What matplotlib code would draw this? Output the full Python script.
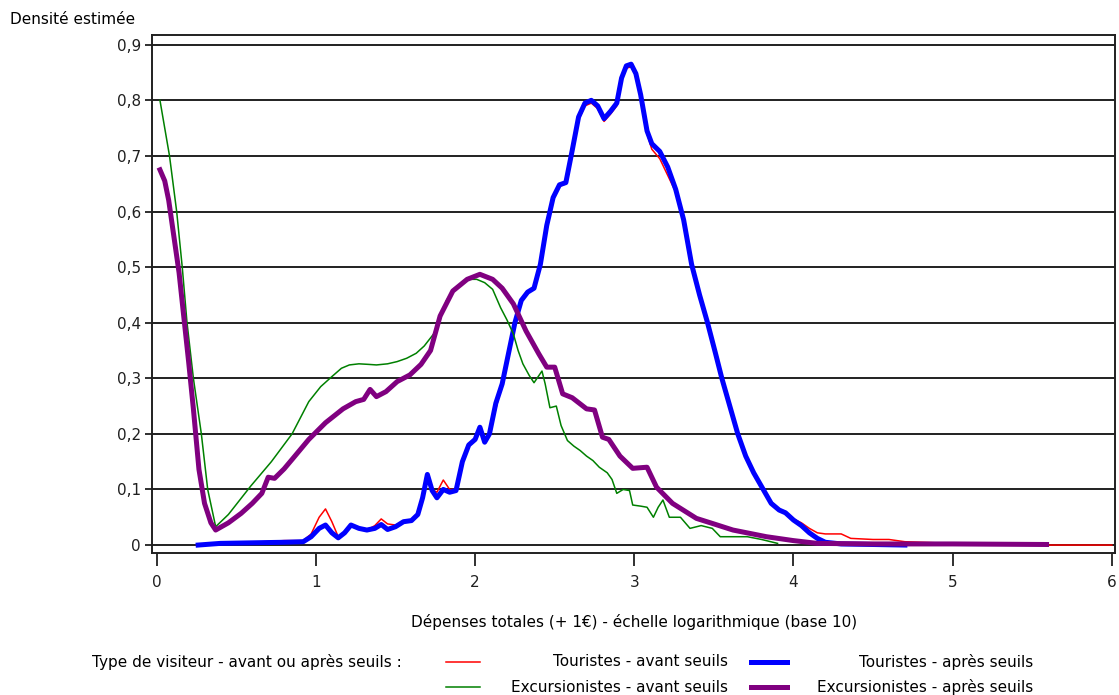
import numpy as np
import matplotlib.pyplot as plt
from matplotlib.lines import Line2D
from matplotlib.ticker import FuncFormatter

# Touristes - après seuils (bleu)
x_tour_apres = [0.26, 0.4, 0.6, 0.8, 0.92, 0.97, 1.02, 1.06, 1.10, 1.14, 1.18, 1.22, 1.27, 1.32,
                1.37, 1.41, 1.45, 1.50, 1.55, 1.60, 1.64, 1.67, 1.70, 1.73, 1.76, 1.80, 1.84, 1.88,
                1.92, 1.96, 2.00, 2.03, 2.06, 2.09, 2.13, 2.17, 2.21, 2.25, 2.29, 2.33, 2.37, 2.41,
                2.45, 2.49, 2.53, 2.57, 2.61, 2.65, 2.69, 2.73, 2.77, 2.81, 2.85, 2.89, 2.92, 2.95,
                2.98, 3.01, 3.04, 3.08, 3.11, 3.16, 3.21, 3.26, 3.31, 3.36, 3.41, 3.46, 3.51, 3.55,
                3.60, 3.65, 3.70, 3.75, 3.81, 3.86, 3.91, 3.95, 4.00, 4.05, 4.10, 4.15, 4.20, 4.30,
                4.50, 4.70]
y_tour_apres = [0.0, 0.003, 0.004, 0.005, 0.006, 0.015, 0.030, 0.036, 0.022, 0.013, 0.022, 0.036, 0.030, 0.027,
                0.030, 0.037, 0.028, 0.033, 0.042, 0.044, 0.055, 0.085, 0.127, 0.098, 0.085, 0.100, 0.095, 0.098,
                0.150, 0.180, 0.190, 0.212, 0.185, 0.200, 0.255, 0.290, 0.345, 0.400, 0.440, 0.455, 0.462, 0.505,
                0.575, 0.625, 0.648, 0.652, 0.710, 0.770, 0.795, 0.800, 0.790, 0.767, 0.780, 0.795, 0.840, 0.862,
                0.865, 0.848, 0.810, 0.745, 0.722, 0.708, 0.680, 0.640, 0.585, 0.505, 0.450, 0.400, 0.345, 0.300,
                0.250, 0.200, 0.160, 0.130, 0.100, 0.075, 0.063, 0.058, 0.045, 0.035, 0.022, 0.012, 0.005, 0.002,
                0.001, 0.0]

# Touristes - avant seuils (rouge)
x_tour_avant = [0.25, 0.4, 0.6, 0.8, 0.92, 0.97, 1.02, 1.06, 1.10, 1.14, 1.18, 1.22, 1.27, 1.32,
                1.37, 1.41, 1.45, 1.50, 1.55, 1.60, 1.64, 1.67, 1.70, 1.73, 1.76, 1.80, 1.84, 1.88,
                1.92, 1.96, 2.00, 2.03, 2.06, 2.09, 2.13, 2.17, 2.21, 2.25, 2.29, 2.33, 2.37, 2.41,
                2.45, 2.49, 2.53, 2.57, 2.61, 2.65, 2.69, 2.73, 2.77, 2.81, 2.85, 2.89, 2.92, 2.95,
                2.98, 3.01, 3.04, 3.08, 3.11, 3.16, 3.21, 3.26, 3.31, 3.36, 3.41, 3.46, 3.51, 3.55,
                3.60, 3.65, 3.70, 3.75, 3.81, 3.86, 3.91, 3.95, 4.00, 4.05, 4.10, 4.15, 4.20, 4.30,
                4.36, 4.50, 4.60, 4.70, 4.90, 5.20, 5.59, 5.60, 6.00]
y_tour_avant = [0.0, 0.003, 0.005, 0.008, 0.008, 0.020, 0.050, 0.065, 0.042, 0.015, 0.022, 0.036, 0.030, 0.027,
                0.035, 0.047, 0.038, 0.036, 0.042, 0.044, 0.055, 0.085, 0.120, 0.100, 0.095, 0.117, 0.100, 0.100,
                0.150, 0.180, 0.190, 0.212, 0.185, 0.200, 0.245, 0.290, 0.345, 0.400, 0.440, 0.455, 0.462, 0.505,
                0.575, 0.625, 0.645, 0.650, 0.705, 0.765, 0.790, 0.795, 0.785, 0.762, 0.775, 0.790, 0.835, 0.858,
                0.860, 0.845, 0.805, 0.740, 0.712, 0.695, 0.665, 0.635, 0.585, 0.505, 0.450, 0.400, 0.345, 0.300,
                0.250, 0.200, 0.162, 0.132, 0.102, 0.078, 0.065, 0.060, 0.047, 0.040, 0.030, 0.022, 0.020, 0.020,
                0.012, 0.010, 0.010, 0.006, 0.004, 0.003, 0.002, 0.0, 0.0]

# Excursionistes - avant seuils (vert)
x_exc_avant = [0.02, 0.08, 0.125, 0.16, 0.19, 0.23, 0.28, 0.32, 0.37, 0.45, 0.59, 0.72, 0.85, 0.955,
               1.03, 1.10, 1.16, 1.21, 1.27, 1.33, 1.38, 1.45, 1.51, 1.57, 1.63, 1.68, 1.74, 1.78,
               1.82, 1.87, 1.92, 1.95, 2.01, 2.06, 2.11, 2.16, 2.20, 2.24, 2.27, 2.30, 2.34, 2.37,
               2.42, 2.44, 2.47, 2.51, 2.54, 2.58, 2.62, 2.66, 2.70, 2.74, 2.78, 2.83, 2.86, 2.89,
               2.93, 2.97, 2.99, 3.04, 3.08, 3.12, 3.15, 3.18, 3.22, 3.29, 3.35, 3.42, 3.49, 3.54,
               3.71, 3.80, 3.90]
y_exc_avant = [0.800, 0.700, 0.600, 0.500, 0.400, 0.300, 0.200, 0.100, 0.033, 0.055, 0.106, 0.150, 0.200, 0.258,
               0.285, 0.303, 0.318, 0.324, 0.326, 0.325, 0.324, 0.326, 0.330, 0.336, 0.345, 0.358, 0.380, 0.405,
               0.440, 0.462, 0.472, 0.478, 0.478, 0.472, 0.460, 0.427, 0.405, 0.380, 0.350, 0.326, 0.305, 0.292,
               0.313, 0.290, 0.247, 0.250, 0.215, 0.188, 0.178, 0.170, 0.160, 0.152, 0.140, 0.130, 0.118, 0.093,
               0.100, 0.098, 0.072, 0.070, 0.068, 0.050, 0.068, 0.081, 0.050, 0.050, 0.030, 0.035, 0.030, 0.015,
               0.015, 0.010, 0.003]

# Excursionistes - après seuils (violet)
x_exc_apres = [0.02, 0.05, 0.075, 0.105, 0.14, 0.17, 0.20, 0.23, 0.265, 0.30, 0.34, 0.37, 0.45, 0.53,
               0.60, 0.66, 0.70, 0.74, 0.80, 0.85, 0.955, 1.06, 1.17, 1.25, 1.30, 1.34, 1.38, 1.44,
               1.51, 1.59, 1.66, 1.72, 1.78, 1.86, 1.95, 2.03, 2.11, 2.17, 2.24, 2.32, 2.40, 2.45,
               2.50, 2.55, 2.61, 2.70, 2.75, 2.80, 2.84, 2.91, 2.99, 3.08, 3.14, 3.24, 3.39, 3.50,
               3.62, 3.83, 4.00, 4.15, 4.50, 5.00, 5.59]
y_exc_apres = [0.675, 0.655, 0.620, 0.560, 0.490, 0.410, 0.330, 0.245, 0.136, 0.075, 0.040, 0.027, 0.040, 0.057,
               0.075, 0.093, 0.122, 0.120, 0.137, 0.154, 0.190, 0.220, 0.245, 0.258, 0.262, 0.280, 0.267, 0.276,
               0.294, 0.306, 0.325, 0.350, 0.412, 0.457, 0.478, 0.487, 0.478, 0.462, 0.434, 0.385, 0.344, 0.320,
               0.320, 0.272, 0.265, 0.245, 0.243, 0.194, 0.190, 0.160, 0.138, 0.140, 0.104, 0.075, 0.048, 0.038,
               0.027, 0.015, 0.008, 0.003, 0.002, 0.002, 0.001]

y_ticks = [0, 0.1, 0.2, 0.3, 0.4, 0.5, 0.6, 0.7, 0.8, 0.9]
x_ticks = [0, 1, 2, 3, 4, 5, 6]

W, H = 1119, 695
fig = plt.figure(figsize=(W / 100, H / 100), dpi=100)
ax = fig.add_axes([152 / W, 1 - 553 / H, (1115 - 152) / W, (553 - 35) / H])

fs = 11
for y in y_ticks:
    ax.axhline(y, color='#202020', lw=1.4, zorder=1)

ax.plot(x_tour_avant, y_tour_avant, color='#ff0000', lw=1.1, zorder=2)
ax.plot(x_tour_apres, y_tour_apres, color='#0000ff', lw=3.6, zorder=3)
ax.plot(x_exc_avant, y_exc_avant, color='#008000', lw=1.1, zorder=4)
ax.plot(x_exc_apres, y_exc_apres, color='#800080', lw=3.6, zorder=5)

ax.set_xlim(-0.03, 6.02)
ax.set_ylim(-0.0143, 0.9175)
ax.set_xticks(x_ticks)
ax.set_yticks(y_ticks)
ax.yaxis.set_major_formatter(FuncFormatter(lambda v, p: '0' if v == 0 else f'{v:.1f}'.replace('.', ',')))
ax.tick_params(axis='x', length=9, width=1.3, pad=7, labelsize=fs, colors='#202020')
ax.tick_params(axis='y', length=5, width=1.3, pad=3, labelsize=fs, colors='#202020')
for s in ax.spines.values():
    s.set_linewidth(1.4)
    s.set_color('#202020')

fig.text(10 / W, 1 - 20 / H, 'Densité estimée', fontsize=fs, va='center', ha='left')
fig.text(634 / W, 1 - 622 / H, 'Dépenses totales (+ 1€) - échelle logarithmique (base 10)',
         fontsize=fs, va='center', ha='center')

# Legend
row1, row2 = 1 - 662 / H, 1 - 687 / H
fig.text(92 / W, row1, 'Type de visiteur - avant ou après seuils :', fontsize=fs, va='center', ha='left')
legend_items = [
    (446, 480, row1, '#ff0000', 1.1, 728, 'Touristes - avant seuils'),
    (446, 480, row2, '#008000', 1.1, 728, 'Excursionistes - avant seuils'),
    (751, 787, row1, '#0000ff', 3.6, 1033, 'Touristes - après seuils'),
    (751, 787, row2, '#800080', 3.6, 1033, 'Excursionistes - après seuils'),
]
for x0, x1, yy, c, lw, xt, lab in legend_items:
    fig.add_artist(Line2D([x0 / W, x1 / W], [yy, yy], color=c, lw=lw, transform=fig.transFigure))
    fig.text(xt / W, yy, lab, fontsize=fs, va='center', ha='right')

fig.savefig('out.png', dpi=100)
